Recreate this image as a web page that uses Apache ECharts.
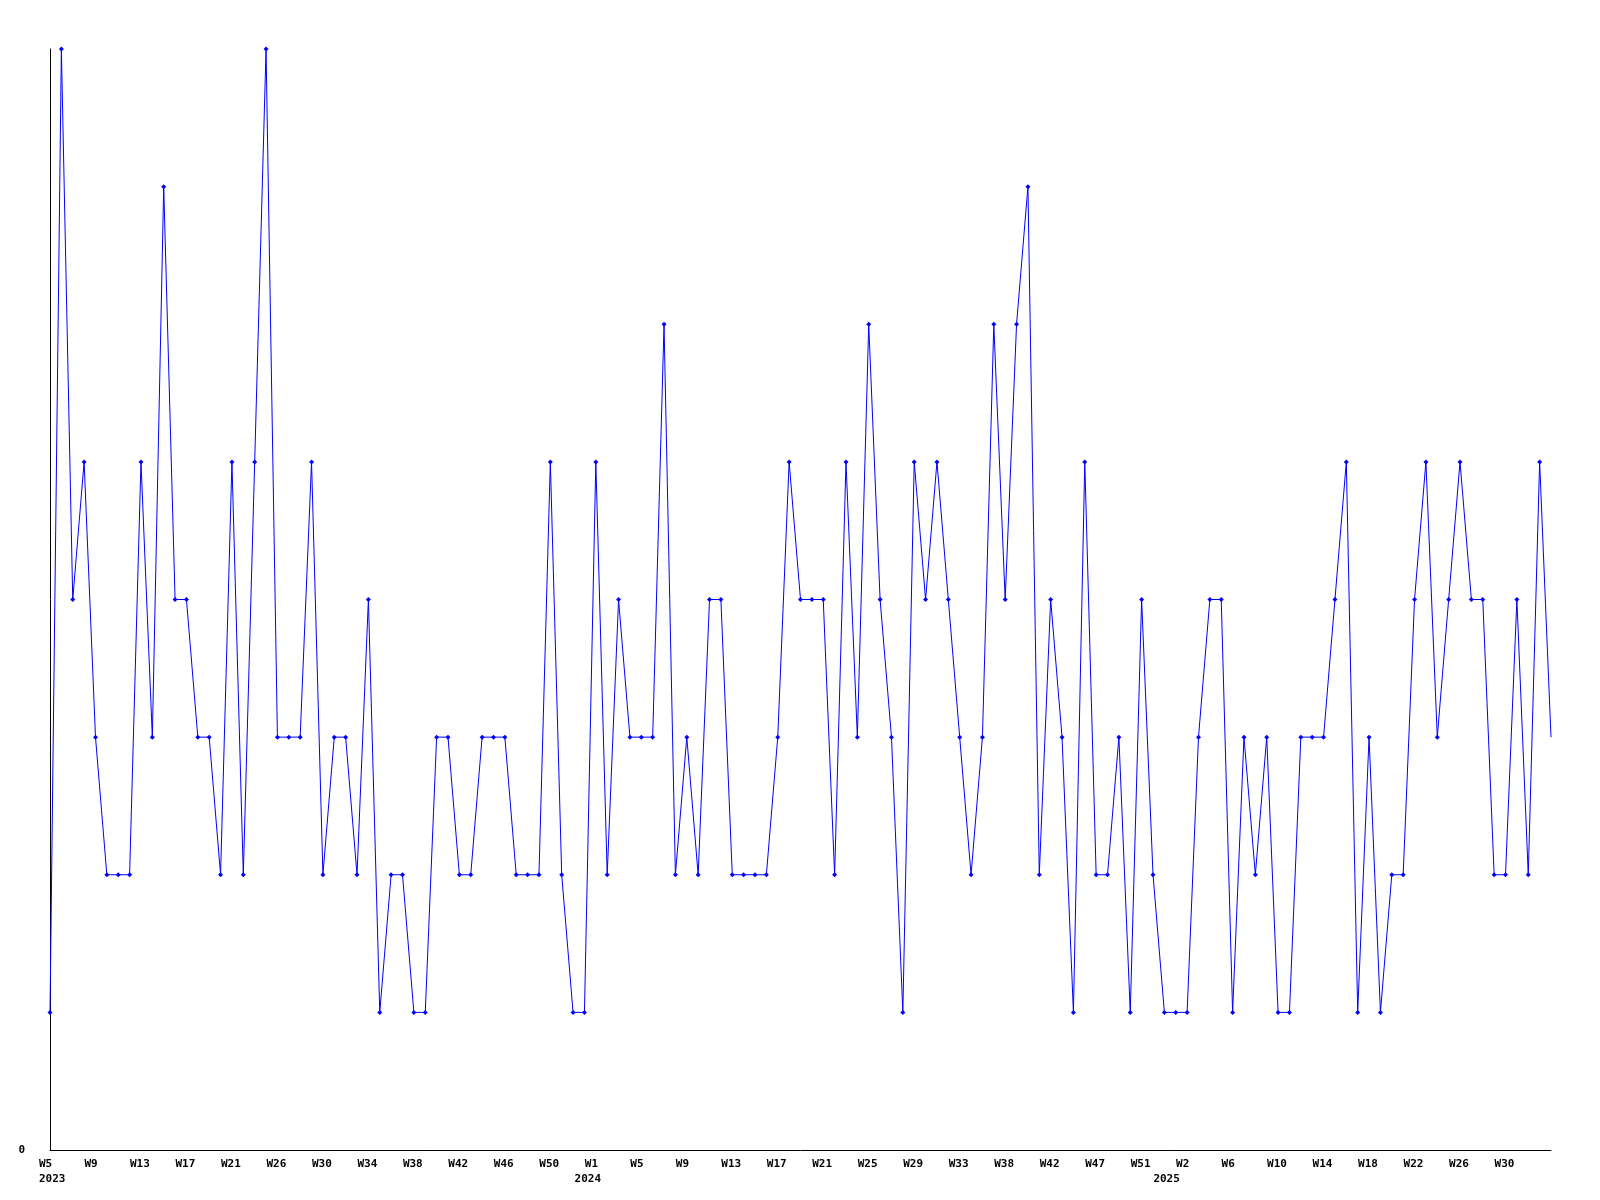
<!DOCTYPE html>
<html>
<head>
<meta charset="utf-8">
<script src="https://cdn.jsdelivr.net/npm/echarts@6/dist/echarts.min.js"></script>
<style>
html,body{margin:0;padding:0;background:#fff;}
#chart{width:1600px;height:1200px;}
</style>
</head>
<body>
<div id="chart"></div>
<script>
// Weekly values, 2023 W5 through 2025 W33 (133 points)
var values = [
  1,8,4,5,3,2,2,2,5,3,7,4,4,3,3,2,5,2,5,8,
  3,3,3,5,2,3,3,2,4,1,2,2,1,1,3,3,2,2,3,3,
  3,2,2,2,5,2,1,1,5,2,4,3,3,3,6,2,3,2,4,4,
  2,2,2,2,3,5,4,4,4,2,5,3,6,4,3,1,5,4,5,4,
  3,2,3,6,4,6,7,2,4,3,1,5,2,2,3,1,4,2,1,1,
  1,3,4,4,1,3,2,3,1,1,3,3,3,4,5,1,3,1,2,2,
  4,5,3,4,5,4,4,2,2,4,2,5,3
];
// Week tick labels, one every 4 points
var weekLabels = ['W5','W9','W13','W17','W21','W26','W30','W34','W38','W42','W46','W50',
  'W1','W5','W9','W13','W17','W21','W25','W29','W33','W38','W42','W47','W51',
  'W2','W6','W10','W14','W18','W22','W26','W30'];
// Year labels and where they sit along the week axis
var yearNames = ['2023','2024','2025'];
var yearPositions = [0, 47.1, 98];
var tickStep = 4;

var seriesData = values.map(function(v, i){
  if (i === values.length - 1) return {value:[i, v], symbol:'none'};
  return [i, v];
});

var chart = echarts.init(document.getElementById('chart'), null, {renderer:'canvas'});
var font = 'DejaVu Sans Mono';
var labelBase = {color:'#000', fontFamily:font, fontWeight:'bold', fontSize:11,
  lineHeight:15, align:'left', padding:[0,0,0,-11]};
chart.setOption({
  animation:false,
  backgroundColor:'#ffffff',
  grid:{left:50, right:49, top:49, bottom:50, containLabel:false},
  xAxis:[{
    type:'value', min:0, max:values.length-1, interval:tickStep, position:'bottom',
    splitLine:{show:false},
    axisTick:{show:false},
    axisLine:{show:true, onZero:false, lineStyle:{color:'#000', width:1}},
    axisLabel:Object.assign({}, labelBase, {
      show:true, showMinLabel:true, showMaxLabel:true, margin:7,
      formatter:function(v){
        var k = Math.round(v / tickStep);
        return weekLabels[k] || '';
      }
    })
  },{
    type:'value', min:0, max:values.length-1, position:'bottom',
    splitLine:{show:false},
    axisTick:{show:false},
    axisLine:{show:false},
    axisLabel:Object.assign({}, labelBase, {
      show:true, margin:22,
      customValues:yearPositions,
      formatter:function(v){
        var k = yearPositions.indexOf(v);
        return k >= 0 ? yearNames[k] : '';
      }
    })
  }],
  yAxis:{
    type:'value', min:0, max:8, interval:8,
    splitLine:{show:false},
    axisTick:{show:false},
    axisLine:{show:true, lineStyle:{color:'#000', width:1}},
    axisLabel:{
      color:'#000', fontFamily:font, fontWeight:'bold', fontSize:11, margin:25,
      formatter:function(v){ return v === 0 ? '0' : ''; }
    }
  },
  series:[{
    type:'line',
    xAxisIndex:0,
    data:seriesData,
    symbol:'diamond',
    symbolSize:5,
    showAllSymbol:true,
    lineStyle:{color:'#0000ff', width:1},
    itemStyle:{color:'#0000ff'},
    clip:false
  }]
});
</script>
</body>
</html>
